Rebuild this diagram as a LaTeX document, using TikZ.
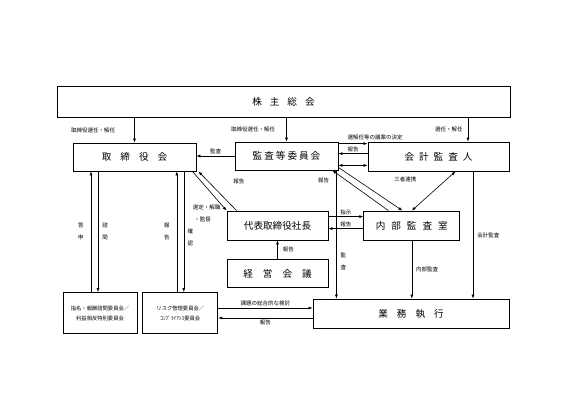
\documentclass[tikz,border=0pt]{standalone}
\usepackage{fontspec}
\setmainfont{Noto Sans CJK JP}
\usetikzlibrary{arrows.meta, positioning, calc}
\newcommand{\jg}[1]{\hspace{#1pt}}

\begin{document}
\begin{tikzpicture}[
        x=1pt, y=-1pt,
        every node/.style={inner sep=1pt},
        box/.style={draw, line width=0.8pt, minimum height=29pt, align=center, font=\fontsize{9.6}{11}\selectfont},
        cbox/.style={box, minimum height=41pt, font=\fontsize{5.3}{10}\selectfont},
        lbl/.style={font=\fontsize{5.5}{6.5}\selectfont},
        vlbl/.style={font=\fontsize{5.5}{12}\selectfont, align=center},
        arr/.style={-{Latex[length=4pt,width=3pt]}, line width=0.6pt},
        twoway/.style={{Latex[length=4pt,width=3pt]}-{Latex[length=4pt,width=3pt]}, line width=0.6pt}
    ]
        \useasboundingbox (0,0) rectangle (577,408);

        \node[box, minimum width=453pt, minimum height=31pt] (gm) at (283.5,101.5) {株\jg{8}主\jg{8}総\jg{8}会};
        \node[box, minimum width=123pt, minimum height=28pt] (board) at (134.5,157) {取\jg{9}締\jg{9}役\jg{9}会};
        \node[box, minimum width=103pt, minimum height=28pt] (ac) at (286.5,156) {監\jg{2}査\jg{2}等\jg{2}委\jg{2}員\jg{2}会};
        \node[box, minimum width=141pt] (aud) at (438.5,156.5) {会\jg{5}計\jg{5}監\jg{5}査\jg{5}人};
        \node[box, minimum width=101pt] (pres) at (277.5,225.5) {代表取締役社長};
        \node[box, minimum width=96pt, right=35pt of pres] (ia) {内\jg{6}部\jg{6}監\jg{6}査\jg{6}室};
        \node[box, minimum width=101pt, minimum height=28pt, below=19pt of pres] (mc) {経\jg{10}営\jg{10}会\jg{10}議};
        \node[box, minimum width=196pt] (ops) at (411,313.5) {業\jg{9}務\jg{9}執\jg{9}行};
        \node[cbox, minimum width=74pt] (nom) at (100,313) {指名・報酬諮問委員会／\\利益相反特別委員会};
        \node[cbox, minimum width=75pt, right=5pt of nom] (risk) {リスク管理委員会／\\ｺﾝﾌﾟﾗｲｱﾝｽ委員会};

        % from the shareholders
        \coordinate (audtop) at ([xshift=29.5pt]aud.north);
        \draw[arr] (board.north |- gm.south) -- (board.north) node[lbl, midway, left=18pt] {取締役選任・解任};
        \draw[arr] (ac.north |- gm.south) -- (ac.north) node[lbl, midway, left=10pt] {取締役選任・解任};
        \draw[arr] (audtop |- gm.south) -- (audtop) node[lbl, midway, left=4pt] {選任・解任};

        % audit committee
        \draw[arr] (ac.west) -- (ac.west -| board.east) node[lbl, midway, above=1pt] {監査};
        \coordinate (r1) at ([yshift=-2pt]ac.north east);
        \coordinate (r2) at ([yshift=-12pt]ac.north east);
        \coordinate (r3) at ([yshift=5pt]ac.south east);
        \draw[arr] (r1) -- (r1 -| aud.west) node[lbl, midway, above=2pt, xshift=22pt] {選解任等の議案の決定};
        \draw[arr] (r2 -| aud.west) -- (r2) node[lbl, midway, above] {報告};
        \draw[twoway] (r3) -- (r3 -| aud.west);
        \draw[arr] ([xshift=25pt]ia.north west) -- ([xshift=-6pt]ac.south east) node[lbl, pos=.75, left=16pt] {報告};
        \draw[arr] ([yshift=3pt]ac.south east) -- ([xshift=39pt]ia.north west);
        \coordinate (acv) at ([xshift=-2pt]ac.south east);
        \draw[arr] (acv) -- (acv |- ops.north) node[vlbl, pos=.71, right=3pt] {監\\査};

        % board and president
        \draw[arr] ([xshift=-4pt]board.south east) -- (pres.north west)
            node[lbl, at end, anchor=north east, align=left, font=\fontsize{5.5}{11.5}\selectfont, xshift=-5pt, yshift=7pt] {選定・解職\\\hspace{1.5pt}・監督};
        \draw[arr] ([xshift=10pt]pres.north west) -- ([xshift=2pt]board.south east) node[lbl, pos=.75, right=24pt] {報告};
        \coordinate (p1) at ([yshift=-6pt]pres.north east);
        \coordinate (p2) at ([yshift=-18pt]pres.north east);
        \draw[arr] (p1) -- (p1 -| ia.west) node[lbl, midway, above] {指示};
        \draw[arr] (p2 -| ia.west) -- (p2) node[lbl, midway, above] {報告};
        \draw[arr] (mc.north) -- (pres.south) node[lbl, midway, right=4pt] {報告};

        % auditor and internal audit
        \draw[twoway] ([xshift=17pt]aud.south) -- (ia.north) node[lbl, pos=.2, left=29pt] {三者連携};
        \coordinate (av) at ([xshift=34.5pt]aud.south);
        \draw[arr] (av) -- (av |- ops.north) node[lbl, midway, right=3pt] {会計監査};
        \draw[arr] (ia.south) -- (ia.south |- ops.north) node[lbl, midway, right=3pt] {内部監査};

        % committees
        \coordinate (n1) at ([xshift=-9pt]nom.north);
        \coordinate (n2) at ([xshift=-2pt]nom.north);
        \coordinate (k1) at ([xshift=-3.5pt]risk.north);
        \coordinate (k2) at ([xshift=3.5pt]risk.north);
        \draw[arr] (n1) -- (n1 |- board.south) node[vlbl, midway, left=6pt] {答\\申};
        \draw[arr] (n2 |- board.south) -- (n2) node[vlbl, midway, right=3pt] {諮\\問};
        \draw[arr] (k1) -- (k1 |- board.south) node[vlbl, midway, left=6pt] {報\\告};
        \draw[arr] (k2 |- board.south) -- (k2) node[vlbl, pos=.55, right=2.5pt] {確\\認};
        \coordinate (q1) at ([yshift=5pt]risk.east);
        \coordinate (q2) at ([yshift=-5pt]risk.east);
        \draw[arr] (q1) -- (q1 -| ops.west) node[lbl, midway, above=1pt] {課題の総合的な検討};
        \draw[arr] (q2 -| ops.west) -- (q2) node[lbl, midway, below=1pt] {報告};
    \end{tikzpicture}
\end{document}
